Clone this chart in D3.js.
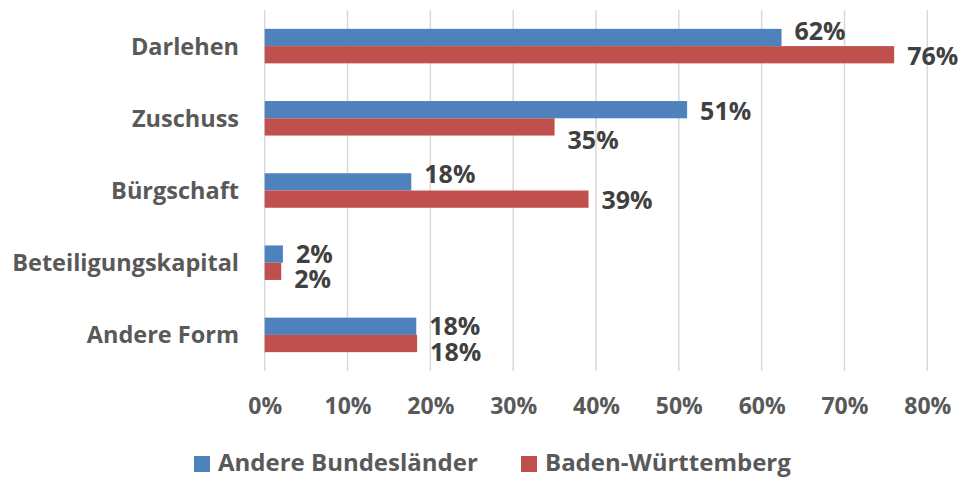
<!DOCTYPE html>
<html>
<head>
<meta charset="utf-8">
<script src="https://cdn.jsdelivr.net/npm/d3@7"></script>
<style>
  body { margin: 0; background: #fff; }
  text { font-family: "Open Sans", Lato, sans-serif; font-weight: bold; }
</style>
</head>
<body>
<div id="chart"></div>
<script>
const categories = ["Darlehen", "Zuschuss", "Bürgschaft", "Beteiligungskapital", "Andere Form"]
const seriesNames = ["Andere Bundesländer", "Baden-Württemberg"]
const andereBundeslaender = [0.624, 0.51, 0.177, 0.022, 0.183]
const badenWuerttemberg = [0.76, 0.35, 0.391, 0.02, 0.184]
const xTicks = [0, 0.1, 0.2, 0.3, 0.4, 0.5, 0.6, 0.7, 0.8]
// manual label shifts, like the hand-placed labels in the original
const labelNudge = [[-6, 1], [1, 13], [-8, 1], [0, 8], [0, 8]]

const colors = ["#4F81BD", "#C0504D"]
const fontFamily = "'Open Sans', Lato, sans-serif"
const width = 963
const height = 479

const rows = categories.map((c, i) => ({
  category: c,
  values: [andereBundeslaender[i], badenWuerttemberg[i]]
}))

const svg = d3.select("#chart")
  .append("svg")
  .attr("width", width)
  .attr("height", height)

const x = d3.scaleLinear()
  .domain([0, 0.8])
  .range([264.7, 927.3])

const y = d3.scaleBand()
  .domain(categories)
  .range([10, 371])
  .paddingInner(0.522)
  .paddingOuter(0.261)

const ySub = d3.scaleBand()
  .domain(d3.range(seriesNames.length))
  .range([0, y.bandwidth()])

// gridlines
svg.append("g")
  .selectAll("line")
  .data(xTicks)
  .join("line")
  .attr("x1", d => x(d))
  .attr("x2", d => x(d))
  .attr("y1", 10)
  .attr("y2", 371)
  .attr("stroke", "#d9d9d9")
  .attr("stroke-width", 1.5)

// x axis labels
const xAxis = svg.append("g")
  .attr("transform", "translate(0,384)")
  .call(d3.axisBottom(x).tickValues(xTicks).tickFormat(d3.format(".0%")).tickSize(0).tickPadding(0))
xAxis.select(".domain").remove()
xAxis.selectAll("text")
  .attr("y", 0)
  .attr("dy", "1.3em")
  .attr("font-size", 23)
  .attr("font-family", fontFamily)
  .attr("font-weight", "bold")
  .attr("fill", "#595959")

// y axis labels
const yAxis = svg.append("g")
  .attr("transform", "translate(239,0)")
  .call(d3.axisLeft(y).tickSize(0).tickPadding(0))
yAxis.select(".domain").remove()
yAxis.selectAll("text")
  .attr("dy", "0.36em")
  .attr("font-size", 23.5)
  .attr("font-family", fontFamily)
  .attr("font-weight", "bold")
  .attr("fill", "#595959")

// bars
const groups = svg.append("g")
  .selectAll("g")
  .data(rows)
  .join("g")
  .attr("transform", d => `translate(0,${y(d.category)})`)

groups.selectAll("rect")
  .data(d => d.values.map((v, s) => ({ v, s })))
  .join("rect")
  .attr("x", x(0))
  .attr("y", d => ySub(d.s))
  .attr("width", d => x(d.v) - x(0))
  .attr("height", ySub.bandwidth())
  .attr("fill", d => colors[d.s])

// data labels
groups.selectAll("text")
  .data((d, i) => d.values.map((v, s) => ({ v, s, nudge: labelNudge[i][s] })))
  .join("text")
  .attr("x", d => x(d.v) + 13)
  .attr("y", d => ySub(d.s) + ySub.bandwidth() / 2 + d.nudge)
  .attr("dy", "0.36em")
  .attr("font-size", 25)
  .attr("fill", "#404040")
  .text(d => d3.format(".0%")(d.v))

// legend
const legend = svg.append("g")
  .attr("transform", "translate(0,471)")
const legendX = [194, 521]
const items = legend.selectAll("g")
  .data(seriesNames)
  .join("g")
  .attr("transform", (d, i) => `translate(${legendX[i]},0)`)
items.append("rect")
  .attr("x", 0)
  .attr("y", -15)
  .attr("width", 16)
  .attr("height", 16)
  .attr("fill", (d, i) => colors[i])
items.append("text")
  .attr("x", 24)
  .attr("font-size", 24)
  .attr("fill", "#595959")
  .text(d => d)
</script>
</body>
</html>
